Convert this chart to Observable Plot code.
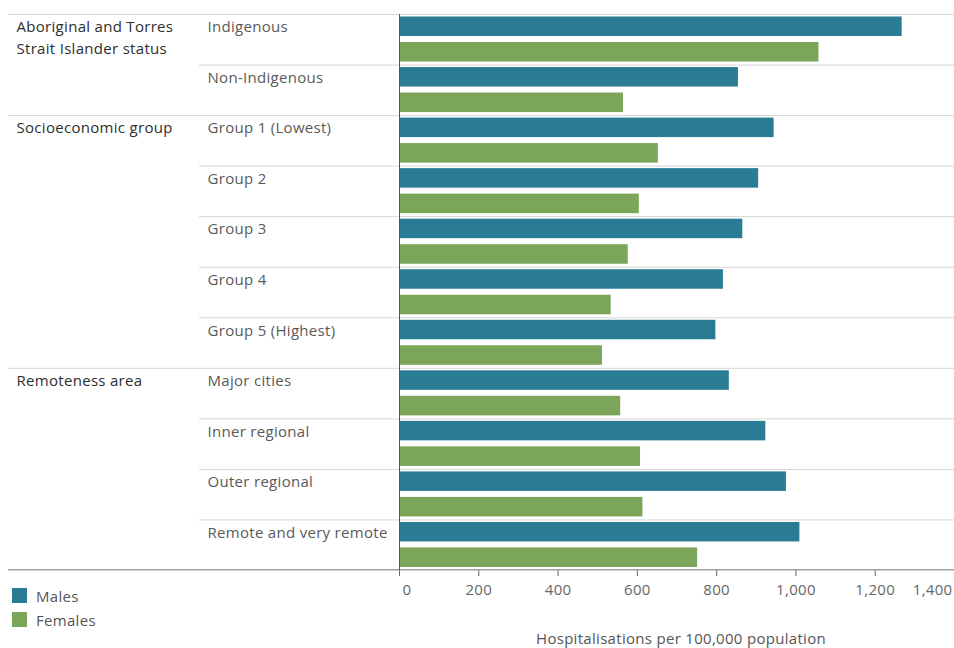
<!DOCTYPE html>
<html>
<head>
<meta charset="utf-8">
<script src="https://cdn.jsdelivr.net/npm/d3@7"></script>
<script src="https://cdn.jsdelivr.net/npm/@observablehq/plot@0.6"></script>
<style>
  html, body { margin: 0; padding: 0; background: #fff; overflow: hidden; }
  #wrap { position: relative; width: 954px; height: 648px; font-family: "Open Sans", sans-serif; }
  #wrap svg { display: block; }
  #legend { position: absolute; left: 12px; top: 588px; font-size: 15px; letter-spacing: 0.3px; color: #555; }
  #legend .item { display: flex; align-items: center; height: 15px; margin-bottom: 9px; }
  #legend .sw { width: 15px; height: 15px; margin-right: 9px; flex: none; }
</style>
</head>
<body>
<div id="wrap"></div>
<script>
// ---- data ----
const groups = ["Aboriginal and Torres\nStrait Islander status", "Socioeconomic group", "Remoteness area"];
const categories = ["Indigenous", "Non-Indigenous", "Group 1 (Lowest)", "Group 2", "Group 3", "Group 4",
  "Group 5 (Highest)", "Major cities", "Inner regional", "Outer regional", "Remote and very remote"];
const categoryGroup = [0, 0, 1, 1, 1, 1, 1, 2, 2, 2, 2];
const males   = [1268, 855, 945, 906, 866, 817, 798, 832, 924, 976, 1010];
const females = [1058, 565, 653, 605, 577, 534, 512, 558, 608, 614, 752];
const series = ["Males", "Females"];
const colors = ["#2a7b94", "#7ba65a"];
const xTicks = [0, 200, 400, 600, 800, 1000, 1200, 1400];
const axisTitle = "Hospitalisations per 100,000 population";

// ---- table built from arrays ----
const rows = categories.map((c, i) => ({
  category: c,
  group: groups[categoryGroup[i]],
  first: i === 0 || categoryGroup[i] !== categoryGroup[i - 1],
  male: males[i],
  female: females[i]
}));
const lastRow = rows.slice(-1);

const W = 954, H = 648, mTop = 14, mBottom = 78, mLeft = 399, mRight = 0;
const bw = (H - mTop - mBottom) / categories.length;
const fs = 15;
const fmt = d3.format(",");
const sepColor = "#d6d6d6";
const firstTick = xTicks[0], lastTick = xTicks[xTicks.length - 1];

const chart = Plot.plot({
  width: W, height: H,
  marginTop: mTop, marginBottom: mBottom, marginLeft: mLeft, marginRight: mRight,
  style: { fontFamily: "Open Sans", fontSize: fs + "px", letterSpacing: "0.3px", color: "#666", background: "#fff", overflow: "visible" },
  x: { domain: [0, 1400], ticks: xTicks, tickSize: 6, tickPadding: 8,
       tickFormat: d => (d === lastTick || d === firstTick) ? "" : fmt(d), label: null },
  y: { domain: categories, padding: 0, round: false, axis: null },
  color: { domain: series, range: colors },
  marks: [
    // row separators (sub-categories)
    Plot.barX(rows.filter(d => !d.first), { y: "category", x1: 0, x2: 1400, insetLeft: -200, insetBottom: bw - 1, fill: sepColor }),
    // group separators
    Plot.barX(rows.filter(d => d.first), { y: "category", x1: 0, x2: 1400, insetLeft: -391, insetBottom: bw - 1, fill: sepColor }),
    // bottom line
    Plot.barX(lastRow, { y: "category", x1: 0, x2: 1400, insetLeft: -391, insetTop: bw - 1, insetBottom: -0.5, fill: "#a0a0a0" }),
    // bars
    Plot.barX(rows, { y: "category", x: "male", fill: () => "Males", insetTop: 2.5, insetBottom: bw - 22 }),
    Plot.barX(rows, { y: "category", x: "female", fill: () => "Females", insetTop: 28, insetBottom: 3 }),
    // zero line
    Plot.ruleX([0], { stroke: "#555", strokeWidth: 1 }),
    // sub-category labels
    Plot.text(rows, { y: "category", text: "category", frameAnchor: "left", textAnchor: "start",
      lineAnchor: "top", dx: 207 - mLeft, dy: -18.2, fill: "#5a5a5a" }),
    // group labels
    Plot.text(rows.filter(d => d.first), { y: "category", text: "group", frameAnchor: "left", textAnchor: "start",
      lineAnchor: "top", lineHeight: 1.45, dx: 16 - mLeft, dy: -23.2, fill: "#2e2e2e" }),
    // first tick label, kept inside the frame
    Plot.text([firstTick], { x: d => d, text: d => fmt(d), frameAnchor: "bottom", textAnchor: "start",
      lineAnchor: "top", dy: 14, dx: 3, fill: "#666" }),
    // last tick label, kept inside the frame
    Plot.text([lastTick], { x: d => d, text: d => fmt(d), frameAnchor: "bottom", textAnchor: "end",
      lineAnchor: "top", dy: 14, dx: -2, fill: "#666" }),
    // axis title
    Plot.text([axisTitle], { text: d => d, frameAnchor: "bottom", lineAnchor: "bottom", dy: 73, dx: 4, fill: "#555" })
  ]
});

const wrap = document.getElementById("wrap");
wrap.appendChild(chart);

// legend
const legend = document.createElement("div");
legend.id = "legend";
series.forEach((s, i) => {
  const item = document.createElement("div");
  item.className = "item";
  const sw = document.createElement("span");
  sw.className = "sw";
  sw.style.background = colors[i];
  const lab = document.createElement("span");
  lab.textContent = s;
  item.appendChild(sw);
  item.appendChild(lab);
  legend.appendChild(item);
});
wrap.appendChild(legend);
</script>
</body>
</html>
